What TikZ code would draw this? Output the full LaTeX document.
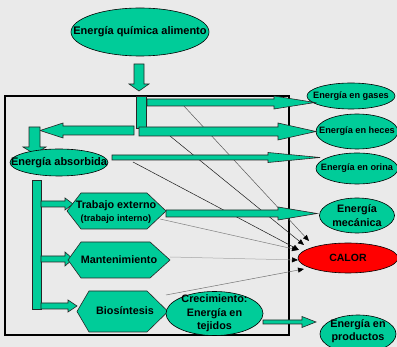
\documentclass[tikz,border=0pt]{standalone}
\usepackage{fontspec}
\setmainfont{Liberation Sans}
\usetikzlibrary{shapes.geometric,arrows.meta}
\definecolor{bg}{HTML}{EAEAEA}
\definecolor{grn}{HTML}{00CC99}
\begin{document}
\begin{tikzpicture}[x=1pt,y=-1pt,
  blk/.style={fill=grn,draw=black!85,line width=0.6pt,line join=miter},
  ell/.style={ellipse,fill=grn,draw=black,line width=0.6pt,inner sep=0pt},
  txt/.style={inner sep=0pt,align=center,font=\bfseries\fontsize{10.8}{13.5}\selectfont},
  smallfont/.style={font=\bfseries\fontsize{9.2}{11}\selectfont},
  thinln/.style={line width=0.5pt,-{Triangle[length=6pt,width=5pt,color=black]}},
]
\fill[bg] (0,0) rectangle (397,347);
\useasboundingbox (0,0) rectangle (397,347);
\clip (0,0) rectangle (397,347);

% outer frame
\draw[line width=1.3pt,black] (5,96) rectangle (289,335);

% thin connector start/end points
\coordinate (sg) at (183,105);
\coordinate (sh) at (170,136);
\coordinate (so) at (133,162);
\coordinate (st) at (160,219);
\coordinate (sm) at (170,257);
\coordinate (sb) at (166,295);
\coordinate (eg) at (309,241);
\coordinate (eh) at (304,245);
\coordinate (eo) at (299,250);
\coordinate (et) at (298,250);
\coordinate (em) at (298,260);
\coordinate (eb) at (304,269);

\draw[thinln,draw=black!65] (sg) -- (eg);
\draw[thinln,draw=black!90] (sh) -- (eh);
\draw[thinln,draw=black!90] (so) -- (eo);
\draw[thinln,draw=black!50] (st) -- (et);
\draw[thinln,draw=black!35] (sm) -- (em);
\draw[thinln,draw=black!55] (sb) -- (eb);

% right-hand ellipses
\node[ell,minimum width=88pt,minimum height=26pt] (gases) at (351,96) {};
\node[txt,smallfont] (gasest) at (gases) {Energía en gases};
\node[ell,minimum width=82pt,minimum height=35pt] (heces) at (357,131.5) {};
\node[txt,smallfont] (hecest) at (heces) {Energía en heces};
\node[ell,minimum width=82pt,minimum height=31pt] (orina) at (357,168.5) {};
\node[txt,smallfont] (orinat) at (orina) {Energía en orina};
\node[ell,minimum width=75pt,minimum height=35pt] (mec) at (357,215.5) {};
\node[txt,font=\bfseries\fontsize{10.8}{14}\selectfont] (mect) at (mec) {Energía\\mecánica};
\node[ell,fill=red,minimum width=100pt,minimum height=30pt] (calor) at (348,258) {};
\node[txt,font=\bfseries\fontsize{10.5}{12}\selectfont] (calort) at (calor) {CALOR};
\node[ell,minimum width=76pt,minimum height=38pt] (prod) at (358,334) {};
\node[txt,font=\bfseries\fontsize{10.8}{13}\selectfont] (prodt) at (358,331.5) {Energía en\\productos};

% block arrows
\draw[blk] (134,64) -- (144,64) -- (144,84) -- (149,84) -- (139,91) -- (129,84) -- (134,84) -- cycle;
\draw[blk] (136,96) rectangle (146,128);
\draw[blk] (147,99) -- (274,99) -- (274,96) -- (315,102.5) -- (274,109) -- (274,106) -- (147,106) -- cycle;
\draw[blk] (139,127) -- (278,127) -- (278,123) -- (316,131.5) -- (278,140) -- (278,136) -- (139,136) -- cycle;
\draw[blk] (134,126) -- (63,126) -- (63,123) -- (40,130.5) -- (63,138) -- (63,135) -- (134,135) -- cycle;
\draw[blk] (29,127) -- (40,127) -- (40,147) -- (46,147) -- (34.5,154) -- (23,147) -- (29,147) -- cycle;
\draw[blk] (112,155) -- (268,155) -- (268,152.5) -- (320,157.5) -- (268,162.5) -- (268,160) -- (112,160) -- cycle;
\draw[blk] (32,180) rectangle (41,309);
\draw[blk] (41,201) -- (65,201) -- (65,198) -- (73,204) -- (65,210) -- (65,207) -- (41,207) -- cycle;
\draw[blk] (41,256) -- (65,256) -- (65,252) -- (73,259) -- (65,266) -- (65,262) -- (41,262) -- cycle;
\draw[blk] (41,303) -- (68,303) -- (68,300) -- (77,306) -- (68,312) -- (68,309) -- (41,309) -- cycle;
\draw[blk] (166,210) -- (278,210) -- (278,207) -- (317,213.5) -- (278,220) -- (278,217) -- (166,217) -- cycle;
\draw[blk] (263,320) -- (302,320) -- (302,316.5) -- (316,322) -- (302,327.5) -- (302,324) -- (263,324) -- cycle;

% hexagons
\draw[blk] (67,211) -- (81,193) -- (147,193) -- (166,211) -- (147,229) -- (81,229) -- cycle;
\draw[blk] (68,260) -- (81,242) -- (150,242) -- (170,260) -- (150,278) -- (81,278) -- cycle;
\draw[blk] (77,311.5) -- (89,291) -- (147,291) -- (168,311.5) -- (147,332) -- (89,332) -- cycle;
\node[txt] (trab) at (116,206) {Trabajo externo};
\node[txt,smallfont] (trabi) at (116,219) {(trabajo interno)};
\node[txt] (mant) at (119,260) {Mantenimiento};
\node[txt] (bio) at (125,311) {Biosíntesis};

% left-hand ellipses
\node[ell,minimum width=138pt,minimum height=48pt] (food) at (140,32) {};
\node[txt,font=\bfseries\fontsize{11}{13}\selectfont] (foodt) at (food) {Energía química alimento};
\node[ell,minimum width=98pt,minimum height=27pt] (abs) at (59,162.5) {};
\node[txt,font=\bfseries\fontsize{11}{13}\selectfont] (abst) at (abs) {Energía absorbida};
\node[ell,minimum width=97pt,minimum height=44pt] (crec) at (214.5,313.5) {};
\node[txt] (crect) at (crec) {Crecimiento:\\Energía en\\tejidos};
\end{tikzpicture}
\end{document}
